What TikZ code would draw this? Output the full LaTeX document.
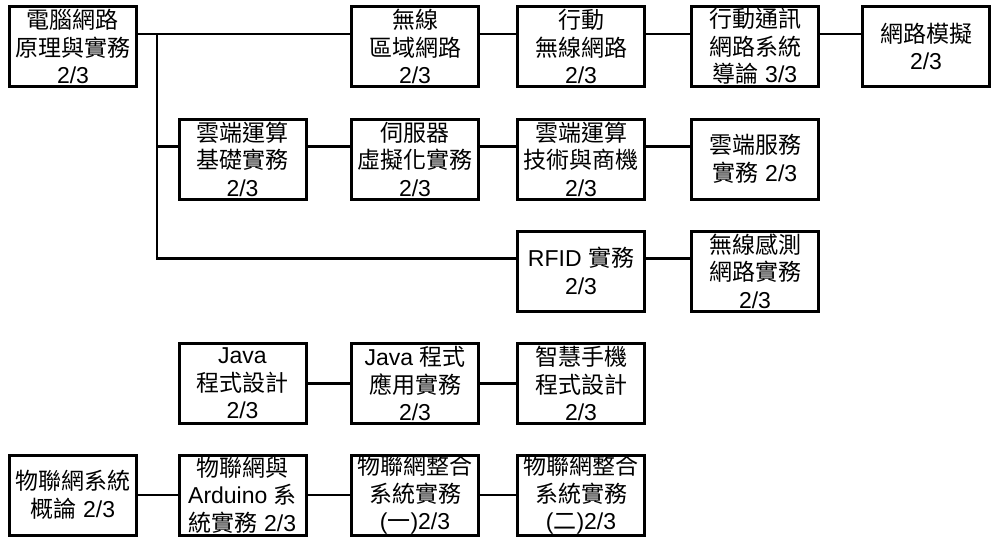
\documentclass[tikz,border=0pt]{standalone}
\usepackage{fontspec}
\setmainfont{Liberation Sans}
\newfontfamily\zhfont{Noto Sans CJK TC}
\newcommand{\zh}[1]{{\zhfont #1}}
\usepackage{tikz}
\tikzstyle{Box}=[draw,line width=3pt,inner sep=0pt,minimum width=127pt,
minimum height=80pt,align=center,font=\fontsize{23}{27.5}\selectfont]
\tikzstyle{Edge}=[draw,line width=2.2pt]

\begin{document}
\begin{tikzpicture}[x=1pt,y=1pt]
        \useasboundingbox (0,0) rectangle (1002,-546);
        \node[Box](11)at(73,-46.5){\zh{電腦網路}\\\zh{原理與實務}\\2/3};
        \node[Box](13)at(415,-46.5){\zh{無線}\\\zh{區域網路}\\2/3};
        \node[Box](14)at(581,-46.5){\zh{行動}\\\zh{無線網路}\\2/3};
        \node[Box](15)at(755,-46.5){\zh{行動通訊}\\\zh{網路系統}\\\zh{導論} 3/3};
        \node[Box](16)at(926,-46.5){\zh{網路模擬}\\2/3};
        \node[Box](22)at(242.5,-159){\zh{雲端運算}\\\zh{基礎實務}\\2/3};
        \node[Box](23)at(415,-159){\zh{伺服器}\\\zh{虛擬化實務}\\2/3};
        \node[Box](24)at(581,-159){\zh{雲端運算}\\\zh{技術與商機}\\2/3};
        \node[Box](25)at(755,-159){\zh{雲端服務}\\\zh{實務} 2/3};
        \node[Box](34)at(581,-271){RFID \zh{實務}\\2/3};
        \node[Box](35)at(755,-271){\zh{無線感測}\\\zh{網路實務}\\2/3};
        \node[Box](42)at(242.5,-383.5){Java\\\zh{程式設計}\\2/3};
        \node[Box](43)at(415,-383.5){Java \zh{程式}\\\zh{應用實務}\\2/3};
        \node[Box](44)at(581,-383.5){\zh{智慧手機}\\\zh{程式設計}\\2/3};
        \node[Box](51)at(73,-495){\zh{物聯網系統}\\\zh{概論} 2/3};
        \node[Box](52)at(242.5,-495){\zh{物聯網與}\\Arduino \zh{系}\\\zh{統實務} 2/3};
        \node[Box](53)at(415,-495){\zh{物聯網整合}\\\zh{系統實務}\\(\zh{一})2/3};
        \node[Box](54)at(581,-495){\zh{物聯網整合}\\\zh{系統實務}\\(\zh{二})2/3};
        \coordinate(t)at(157,-34);
        \draw[Edge]([yshift=12.5pt]11.east)--([yshift=12.5pt]13.west);
        \draw[Edge]([yshift=12.5pt]13.east)--([yshift=12.5pt]14.west);
        \draw[Edge]([yshift=12.5pt]14.east)--([yshift=12.5pt]15.west);
        \draw[Edge]([yshift=12.5pt]15.east)--([yshift=12.5pt]16.west);
        \draw[Edge](t)|-([yshift=12.5pt]22.west);
        \draw[Edge](t)|-([yshift=12.5pt]34.west);
        \draw[Edge]([yshift=12.5pt]22.east)--([yshift=12.5pt]23.west);
        \draw[Edge]([yshift=12.5pt]23.east)--([yshift=12.5pt]24.west);
        \draw[Edge]([yshift=12.5pt]24.east)--([yshift=12.5pt]25.west);
        \draw[Edge]([yshift=12.5pt]34.east)--([yshift=12.5pt]35.west);
        \draw[Edge](42)--(43);
        \draw[Edge](43)--(44);
        \draw[Edge](51)--(52);
        \draw[Edge](52)--(53);
        \draw[Edge](53)--(54);
    \end{tikzpicture}
\end{document}
